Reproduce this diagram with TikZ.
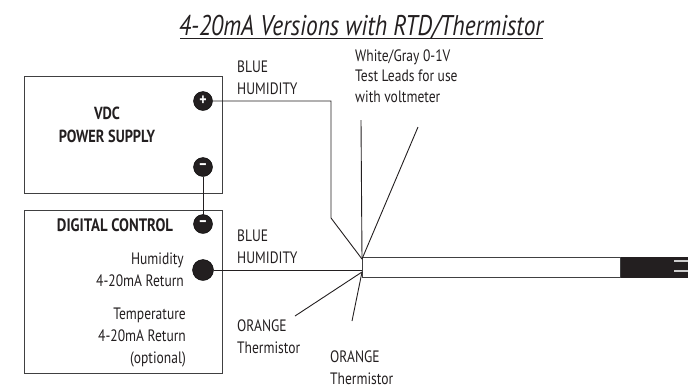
\documentclass[tikz,border=0pt]{standalone}
\usepackage{fontspec}
\setmainfont[FakeStretch=0.82]{PT Sans}
\usetikzlibrary{positioning}

\begin{document}
\begin{tikzpicture}[
        x=1pt,
        y=-1pt,
        term/.style = {
            draw,
            circle,
            fill=termblack,
            text=white,
            font=\bfseries\fontsize{17}{17}\selectfont,
            minimum size = #1,
            inner sep = 0pt,
            outer sep = 0pt
        },
        term/.default = 19pt,
        panel/.style = {
            draw=linegray,
            line width = 1pt,
            minimum width = 198pt,
            inner sep = 0pt
        },
        lbl/.style = {
            font=\fontsize{16.5}{22}\selectfont,
            align=left,
            text=termblack,
            inner sep = 0pt
        },
        wire/.style = {
            line width = 0.9pt,
            draw=termblack
        }
            ]
            \definecolor{termblack}{HTML}{231F20}
            \definecolor{linegray}{HTML}{404041}
            \useasboundingbox (0,0) rectangle (688,389);

            \node[font=\itshape\fontsize{28.5}{30}\selectfont, text=termblack, inner sep=0pt] (title) at (361,27) {4-20mA Versions with RTD/Thermistor};
            \coordinate (ulstart) at (180,38.5);
            \coordinate (ulend) at (543,38.5);
            \draw[wire] (ulstart) -- (ulend);

            \node[panel, minimum height=117pt] (supply) at (123,134.5) {};
            \node[panel, minimum height=163pt, below=16pt of supply] (control) {};

            \node[term] (plus) at (203,101) {+};
            \node[term] (minus1) at (203,167) {--};
            \node[term] (minus2) at (203,224) {--};
            \node[term=21pt] (ret) at (203,270) {};

            \node[lbl, align=center, font=\bfseries\fontsize{17.5}{23}\selectfont] (vdc) at (107,125) {VDC\\POWER SUPPLY};
            \node[lbl, font=\bfseries\fontsize{18}{20}\selectfont] (digital) at (115,225) {DIGITAL CONTROL};
            \node[lbl, align=right, anchor=base east] (humid) at (184,286) {Humidity\\4-20mA Return};
            \node[lbl, align=right, anchor=base east] (temp) at (186,363) {Temperature\\4-20mA Return\\(optional)};

            \node[lbl, anchor=base west] (blue1) at (237,94) {BLUE\\HUMIDITY};
            \node[lbl, anchor=base west] (blue2) at (237,263) {BLUE\\HUMIDITY};
            \node[lbl, anchor=base west] (orange1) at (237,353) {ORANGE\\Thermistor};
            \node[lbl, anchor=base west] (orange2) at (330,384) {ORANGE\\Thermistor};
            \node[lbl, anchor=base west, font=\fontsize{16.5}{20.5}\selectfont] (leads) at (355,102) {White/Gray 0-1V\\Test Leads for use\\with voltmeter};

            % cable
            \node[draw=linegray, line width=1pt, fill=white, minimum width=258pt, minimum height=20pt, inner sep=0pt] (cable) at (491,267) {};
            \node[fill=termblack, minimum width=68pt, minimum height=21pt, inner sep=0pt, right=0pt of cable] (tip) {};
            \coordinate (lead1) at (674,261);
            \coordinate (lead2) at (674,271);
            \draw[line width=1.5pt, draw=white!80!black] (lead1) -- (lead1 -| tip.east);
            \draw[line width=1.5pt, draw=white!80!black] (lead2) -- (lead2 -| tip.east);

            % wires
            \coordinate (hub) at (362,259);
            \coordinate (hublow) at (362,272);
            \coordinate (bend) at (331,218);
            \coordinate (whiteend) at (361,120);
            \coordinate (grayend) at (418,127);
            \coordinate (orangeend1) at (295,316);
            \coordinate (orangeend2) at (352,321);

            \draw[wire] (plus) -| (bend) -- (hub);
            \draw[wire] (whiteend) -- (hub);
            \draw[wire] (grayend) -- (hub);
            \draw[wire] (minus1) -- (minus2);
            \draw[wire] (ret) -- (ret -| cable.west);
            \draw[wire] (hublow) -- (orangeend1);
            \draw[wire] (hublow) -- (orangeend2);

        \end{tikzpicture}
\end{document}
